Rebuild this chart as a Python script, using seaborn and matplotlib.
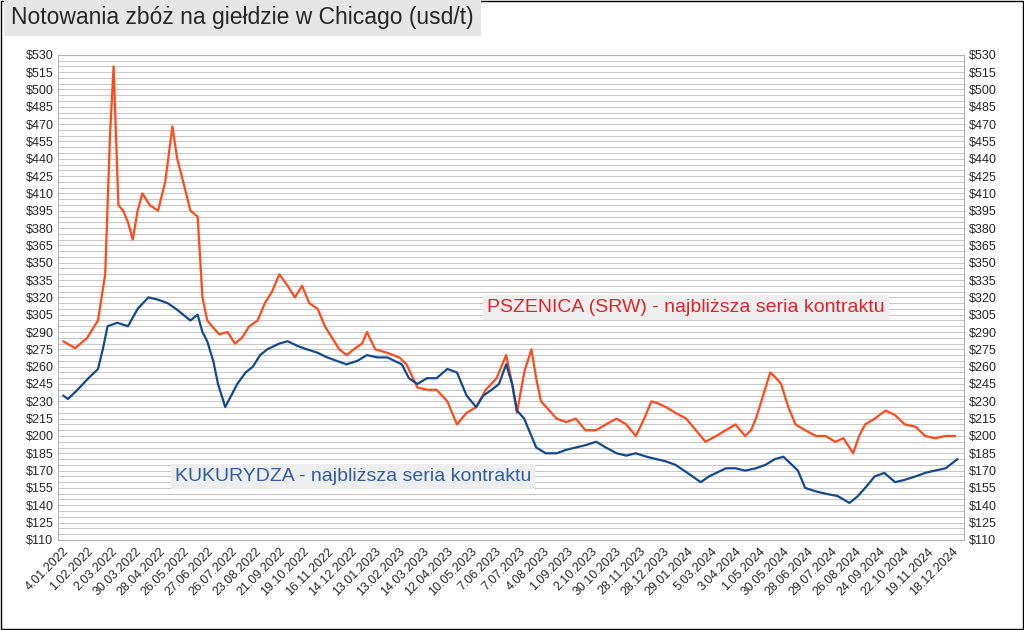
import matplotlib
matplotlib.use("Agg")
import matplotlib.pyplot as plt
import seaborn as sns
import numpy as np

# trading-day index and price (usd/t)
wheat_x = [0, 10, 20, 29, 35, 39, 42, 46, 50, 54, 58, 62, 66, 72, 79, 85, 91, 95, 100, 106, 112, 116, 120, 124, 130, 137, 143, 149, 155, 162, 168, 174, 180, 187, 193, 199, 205, 212, 218, 224, 230, 236, 242, 249, 253, 260, 270, 280, 286, 295, 303, 311, 320, 328, 336, 344, 352, 361, 369, 374, 378, 384, 390, 394, 398, 405, 411, 419, 427, 435, 444, 452, 461, 469, 477, 484, 490, 496, 502, 510, 519, 527, 535, 544, 552, 560, 568, 573, 577, 583, 589, 594, 598, 604, 610, 618, 627, 635, 643, 650, 658, 663, 668, 676, 685, 693, 701, 710, 718, 726, 735, 743]
wheat = [282, 276, 285, 300, 340, 460, 520, 400, 395, 385, 370, 395, 410, 400, 395, 420, 468, 440, 420, 395, 390, 320, 300, 295, 288, 290, 280, 285, 295, 300, 315, 325, 340, 330, 320, 330, 315, 310, 295, 285, 275, 270, 275, 280, 290, 275, 272, 268, 262, 242, 240, 240, 230, 210, 220, 225, 240, 250, 270, 245, 220, 255, 275, 250, 230, 222, 215, 212, 215, 205, 205, 210, 215, 210, 200, 215, 230, 228, 225, 220, 215, 205, 195, 200, 205, 210, 200, 205, 215, 235, 255, 250, 245, 225, 210, 205, 200, 200, 195, 198, 185, 200, 210, 215, 222, 218, 210, 208, 200, 198, 200, 200]

corn_x = [0, 4, 12, 21, 29, 33, 37, 45, 54, 62, 71, 79, 87, 94, 100, 106, 112, 116, 120, 125, 129, 135, 140, 145, 152, 158, 164, 170, 180, 187, 195, 203, 212, 220, 228, 236, 245, 253, 262, 270, 276, 282, 288, 295, 303, 311, 320, 328, 336, 344, 350, 357, 363, 369, 374, 378, 384, 390, 394, 402, 411, 419, 427, 435, 444, 452, 461, 469, 477, 486, 494, 502, 510, 520, 531, 538, 544, 552, 560, 568, 577, 585, 593, 600, 606, 612, 618, 627, 635, 645, 655, 662, 668, 676, 684, 693, 701, 710, 718, 726, 735, 745]
corn = [235, 232, 240, 250, 258, 275, 295, 298, 295, 310, 320, 318, 315, 310, 305, 300, 305, 290, 282, 265, 245, 225, 235, 245, 255, 260, 270, 275, 280, 282, 278, 275, 272, 268, 265, 262, 265, 270, 268, 268, 265, 262, 250, 245, 250, 250, 258, 255, 235, 225, 235, 240, 245, 262, 245, 222, 215, 200, 190, 185, 185, 188, 190, 192, 195, 190, 185, 183, 185, 182, 180, 178, 175, 168, 160, 165, 168, 172, 172, 170, 172, 175, 180, 182, 176, 170, 155, 152, 150, 148, 142, 148, 155, 165, 168, 160, 162, 165, 168, 170, 172, 180]

tick_labels = ["4.01.2022", "1.02.2022", "2.03.2022", "30.03.2022", "28.04.2022", "26.05.2022",
               "27.06.2022", "26.07.2022", "23.08.2022", "21.09.2022", "19.10.2022", "16.11.2022",
               "14.12.2022", "13.01.2023", "13.02.2023", "14.03.2023", "12.04.2023", "10.05.2023",
               "7.06.2023", "7.07.2023", "4.08.2023", "1.09.2023", "2.10.2023", "30.10.2023",
               "28.11.2023", "28.12.2023", "29.01.2024", "5.03.2024", "3.04.2024", "1.05.2024",
               "30.05.2024", "28.06.2024", "29.07.2024", "26.08.2024", "24.09.2024", "22.10.2024",
               "19.11.2024", "18.12.2024"]

sns.set_style("white")
plt.rcParams['font.family'] = ['Liberation Sans', 'DejaVu Sans']

fig = plt.figure(figsize=(10.24, 6.3), dpi=100)
ax = fig.add_axes([0.057, 0.143, 0.884, 0.77])

sns.lineplot(x=wheat_x, y=wheat, ax=ax, color="#ff4a1c", linewidth=1.6)
sns.lineplot(x=corn_x, y=corn, ax=ax, color="#144a8c", linewidth=1.6)

ax.set_ylim(110, 530)
ax.set_xlim(-4, 750)
ax.set_yticks(np.arange(110, 531, 15))
ax.set_yticks(np.arange(110, 531, 5), minor=True)
ax.set_yticklabels([f"${v}" for v in range(110, 531, 15)], fontsize=9)
ax.tick_params(axis='y', which='both', length=0, labelright=True, right=False)
ax.grid(axis='y', which='both', color="#c8c8c8", linewidth=0.8)
ax.set_axisbelow(True)
ax.set_xticks([20 * k for k in range(len(tick_labels))])
ax.set_xticklabels(tick_labels, rotation=45, ha='right', rotation_mode='anchor', fontsize=9)
ax.tick_params(axis='x', length=3, pad=1, color="#b3b3b3")
for s in ax.spines.values():
    s.set_color("#b3b3b3")
    s.set_linewidth(0.8)

ax.text(353, 307, "PSZENICA (SRW) - najbliższa seria kontraktu", color="#d9252b", fontsize=14,
        bbox=dict(facecolor="#eeeeee", edgecolor="none", pad=3))
ax.text(93, 161, "KUKURYDZA - najbliższa seria kontraktu", color="#2f5d9e", fontsize=14,
        bbox=dict(facecolor="#eeeeee", edgecolor="none", pad=3))

fig.text(0.011, 0.962, "Notowania zbóż na giełdzie w Chicago (usd/t)", fontsize=16.5,
         bbox=dict(facecolor="#e6e6e6", edgecolor="none", pad=5))
fig.patches.append(plt.Rectangle((0.001, 0.001), 0.998, 0.998, transform=fig.transFigure,
                                 fill=False, edgecolor="black", linewidth=1))

fig.savefig("out.png", dpi=100)
